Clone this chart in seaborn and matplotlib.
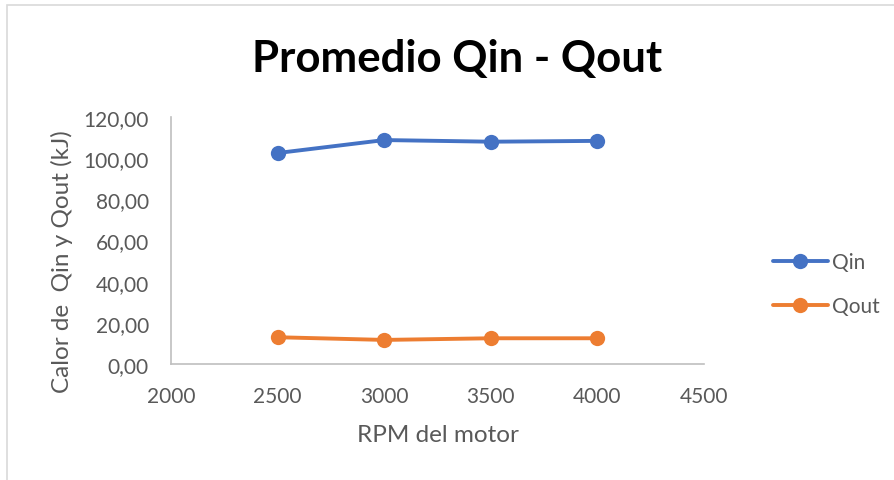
import numpy as np
import pandas as pd
import matplotlib
matplotlib.use("Agg")
import matplotlib.pyplot as plt
import seaborn as sns
from matplotlib.ticker import FuncFormatter
from matplotlib.patches import Rectangle

# Data
rpm = [2500, 3000, 3500, 4000]
qin = [102.5, 108.8, 108.0, 108.4]
qout = [13.0, 11.7, 12.5, 12.5]

df = pd.DataFrame({
    "rpm": rpm * 2,
    "valor": qin + qout,
    "serie": ["Qin"] * len(rpm) + ["Qout"] * len(rpm),
})

sns.set_style("white")
plt.rcParams["font.family"] = ["Lato", "DejaVu Sans"]

gray = "#595959"
fig = plt.figure(figsize=(8.95, 4.81), dpi=100)
ax = fig.add_axes([171 / 895, 1 - 365 / 481, (704 - 171) / 895, (365 - 118) / 481])

sns.lineplot(
    data=df, x="rpm", y="valor", hue="serie",
    palette={"Qin": "#4472C4", "Qout": "#ED7D31"},
    marker="o", markersize=11, markeredgewidth=0, linewidth=2.8, ax=ax,
)

ax.set_xlim(2000, 4500)
ax.set_ylim(0, 120)
ax.set_xticks(range(2000, 4501, 500))
ax.set_yticks(range(0, 121, 20))
ax.yaxis.set_major_formatter(FuncFormatter(lambda v, p: f"{v:.2f}".replace(".", ",")))
ax.tick_params(length=0, labelsize=15, colors=gray, pad=16)

for s in ["top", "right"]:
    ax.spines[s].set_visible(False)
for s in ["left", "bottom"]:
    ax.spines[s].set_color("#BFBFBF")
    ax.spines[s].set_linewidth(1.2)

ax.set_xlabel("RPM del motor", fontsize=17.5, color=gray, labelpad=13)
ax.set_ylabel("Calor de  Qin y Qout (kJ)", fontsize=17.5, color=gray)
ax.yaxis.set_label_coords(-98 / 533, 0.42)

fig.text(457 / 895, 1 - 72 / 481, "Promedio Qin - Qout", fontsize=31.5,
         fontweight="bold", ha="center", va="baseline", color="black")

leg = ax.legend(loc="center left", bbox_to_anchor=(1.094, 0.322), frameon=False,
                fontsize=15, handlelength=2.65, labelspacing=1.15, handletextpad=0.2)
for t in leg.get_texts():
    t.set_color(gray)

# chart area border
fig.patches.append(Rectangle((7 / 895, -0.1), 1.1, 1 - 6 / 481 + 0.1,
                             transform=fig.transFigure, fill=False,
                             edgecolor="#D9D9D9", linewidth=1.2))

fig.savefig("out.png", dpi=100)
